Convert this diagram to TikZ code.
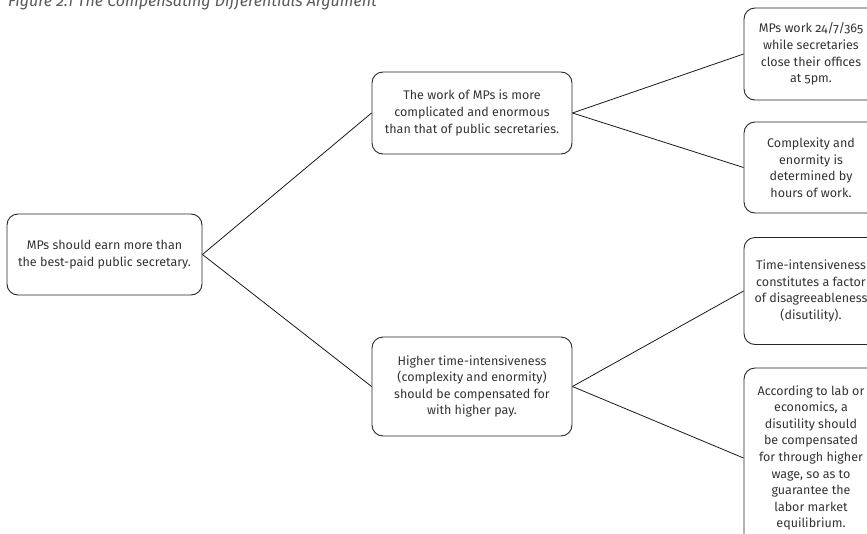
\documentclass[tikz,border=0pt]{standalone}
\usepackage{fontspec}
\setmainfont{Fira Sans}[Numbers=OldStyle]
\begin{document}
\begin{tikzpicture}[x=1pt,y=-1pt,
  box/.style={draw=black!85, line width=0.9pt, rounded corners=11pt, align=center,
    inner sep=2pt, text=black!80, font=\fontsize{12.5}{16.6}\selectfont},
  rbox/.style={box, minimum width=134pt},
  link/.style={draw=black!90, line width=0.8pt}]
\useasboundingbox (0,0) rectangle (867,533);
\clip (0,0) rectangle (867,533);
\node[anchor=base west, text=black!65, font=\itshape\fontsize{16}{19}\selectfont, inner sep=0pt] (title) at (8,6) {Figure 2.1 The Compensating Differentials Argument};
\node[box, minimum width=195pt, minimum height=81pt] (root) at (104.5,254.5)
  {MPs should earn more than\\the best-paid public secretary.};
\node[box, minimum width=200pt, minimum height=82pt] (m1) at (472,113)
  {The work of MPs is more\\complicated and enormous\\than that of public secretaries.};
\node[box, minimum width=200pt, minimum height=99pt] (m2) at (472,386.5)
  {Higher time-intensiveness\\(complexity and enormity)\\should be compensated for\\with higher pay.};
\node[rbox, minimum height=92pt] (r1) at (811,54)
  {MPs work 24/7/365\\while secretaries\\close their offices\\at 5pm.};
\node[rbox, minimum height=91pt] (r2) at (811,167.5)
  {Complexity and\\enormity is\\determined by\\hours of work.};
\node[rbox, minimum height=107pt] (r3) at (811,291)
  {Time-intensiveness\\constitutes a factor\\of disagreeableness\\(disutility).};
\node[rbox, minimum height=180pt] (r4) at (811,458)
  {According to lab or\\economics, a\\disutility should\\be compensated\\for through higher\\wage, so as to\\guarantee the\\labor market\\equilibrium.};
\draw[link] (root.east) -- (m1.west);
\draw[link] (root.east) -- (m2.west);
\draw[link] (m1.east) -- (r1.west);
\draw[link] (m1.east) -- (r2.west);
\draw[link] (m2.east) -- (r3.west);
\draw[link] (m2.east) -- (r4.west);
\end{tikzpicture}
\end{document}
